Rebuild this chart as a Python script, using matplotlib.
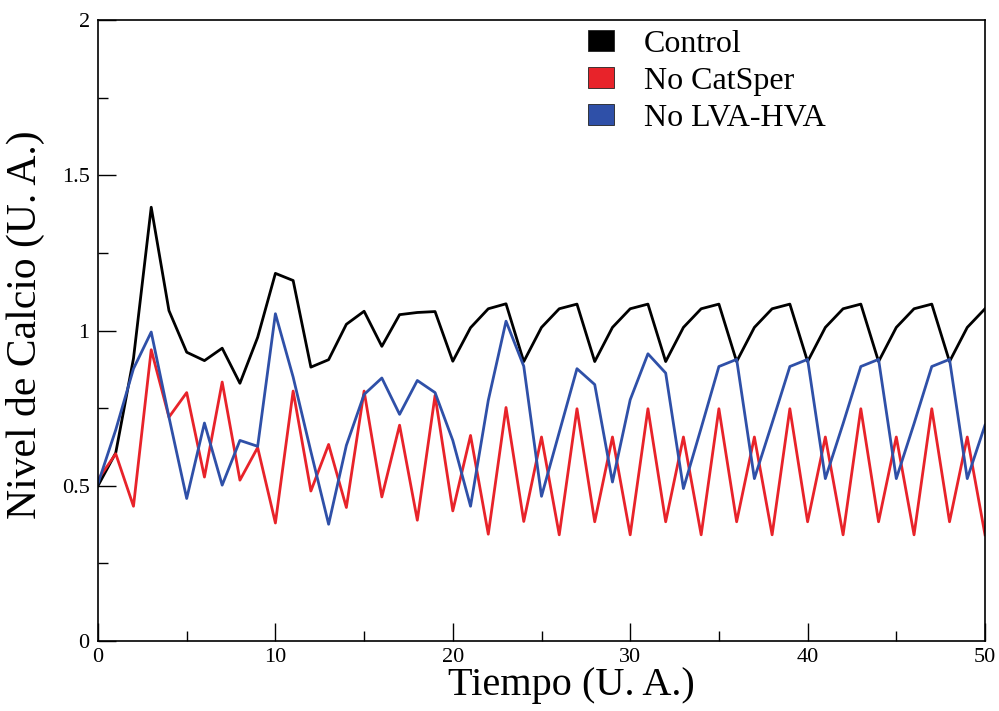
import matplotlib
matplotlib.use("Agg")
import matplotlib.pyplot as plt
from matplotlib.patches import Patch
from matplotlib.ticker import MultipleLocator

plt.rcParams['font.family'] = ['Liberation Serif', 'DejaVu Serif']

tiempo = list(range(0, 51))

control = [0.50, 0.606, 0.91, 1.397, 1.064, 0.93, 0.903, 0.943, 0.83, 0.978,
           1.184, 1.161, 0.882, 0.906, 1.02, 1.062, 0.949, 1.051, 1.058, 1.061,
           0.901, 1.009, 1.07, 1.086, 0.90, 1.01, 1.07, 1.085, 0.90, 1.01,
           1.07, 1.085, 0.90, 1.01, 1.07, 1.085, 0.90, 1.01, 1.07, 1.085,
           0.90, 1.01, 1.07, 1.085, 0.90, 1.01, 1.07, 1.085, 0.90, 1.01, 1.07]

no_catsper = [0.52, 0.603, 0.434, 0.938, 0.721, 0.80, 0.528, 0.834, 0.518, 0.623,
              0.38, 0.805, 0.483, 0.633, 0.43, 0.805, 0.464, 0.695, 0.389, 0.791,
              0.419, 0.662, 0.344, 0.752, 0.385, 0.657, 0.342, 0.748, 0.384, 0.657,
              0.342, 0.748, 0.384, 0.657, 0.342, 0.748, 0.384, 0.657, 0.342, 0.748,
              0.384, 0.657, 0.342, 0.748, 0.384, 0.657, 0.342, 0.748, 0.384, 0.657, 0.342]

no_lva_hva = [0.507, 0.68, 0.877, 0.995, 0.721, 0.459, 0.702, 0.502, 0.646, 0.627,
              1.054, 0.85, 0.61, 0.376, 0.63, 0.794, 0.847, 0.73, 0.839, 0.80,
              0.646, 0.434, 0.775, 1.03, 0.885, 0.466, 0.672, 0.877, 0.826, 0.512,
              0.777, 0.925, 0.863, 0.491, 0.686, 0.884, 0.907, 0.523, 0.702, 0.884,
              0.907, 0.523, 0.70, 0.884, 0.907, 0.523, 0.70, 0.884, 0.907, 0.523, 0.695]

labels = ["Control", "No CatSper", "No LVA-HVA"]
colors = ["#000000", "#e8232a", "#2f50a8"]

fig = plt.figure(figsize=(9.99, 7.11), dpi=100)
ax = fig.add_axes([98/999, 70/711, 887/999, 621/711])

for y, c in zip([control, no_catsper, no_lva_hva], colors):
    ax.plot(tiempo, y, color=c, lw=2.0)

ax.set_xlim(0, 50)
ax.set_ylim(0, 2)
ax.xaxis.set_major_locator(MultipleLocator(10))
ax.xaxis.set_minor_locator(MultipleLocator(5))
ax.yaxis.set_minor_locator(MultipleLocator(0.25))
ax.set_yticks([0, 0.5, 1, 1.5, 2])
ax.set_yticklabels(["0", "0.5", "1", "1.5", "2"])
ax.tick_params(which='major', direction='in', length=13, width=1.0, labelsize=16, pad=6)
ax.tick_params(axis='x', which='major', pad=5)
ax.tick_params(which='minor', direction='in', length=7, width=1.0)
for s in ax.spines.values():
    s.set_linewidth(1.2)

ax.set_xlabel("Tiempo (U. A.)", fontsize=29, labelpad=0, x=0.534)
ax.set_ylabel("Nivel de Calcio (U. A.)", fontsize=30, labelpad=12, y=0.51)

handles = [Patch(facecolor=c, edgecolor='#222222', linewidth=0.6) for c in colors]
leg = ax.legend(handles, labels, loc='upper left', bbox_to_anchor=(588/999, 1 - 30/711),
                bbox_transform=fig.transFigure, frameon=False, fontsize=23,
                handlelength=0.8, handleheight=0.65, handletextpad=0.95,
                labelspacing=0.25, borderaxespad=0, borderpad=0)

fig.savefig("out.png", dpi=100)
